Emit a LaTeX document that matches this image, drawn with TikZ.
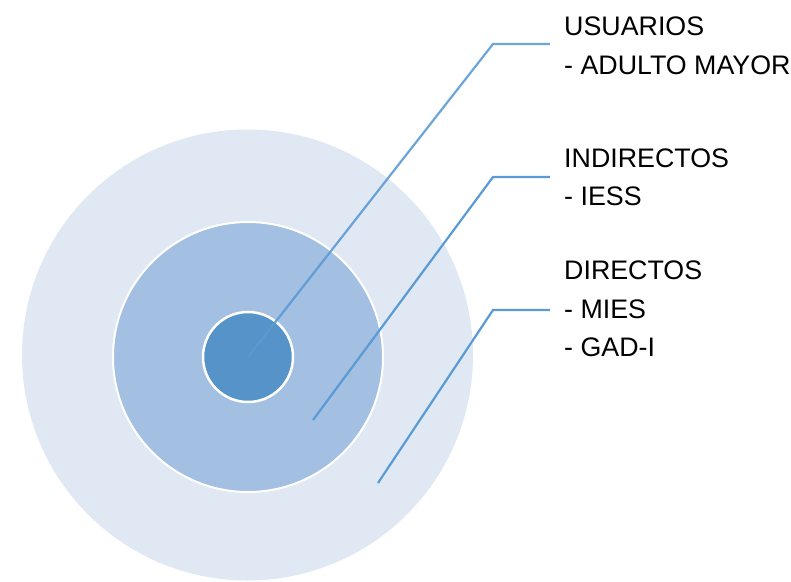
\documentclass[tikz,border=0pt]{standalone}
\usepackage{fontspec}
\setmainfont{Liberation Sans}
\definecolor{ringout}{RGB}{224,232,243}
\definecolor{ringmid}{RGB}{163,191,225}
\definecolor{ringin}{RGB}{85,147,200}
\definecolor{leader}{RGB}{91,155,213}
\begin{document}
\begin{tikzpicture}[x=1pt,y=-1pt,
  ring/.style={circle,inner sep=0pt,outer sep=0pt},
  lbl/.style={anchor=base west,inner sep=0pt,font=\fontsize{26.8}{32}\selectfont,text=black},
  leaderline/.style={draw=leader,line width=2.2pt,line join=miter}]
\useasboundingbox (0,0) rectangle (791,581);
\node[ring,fill=ringout,minimum size=451pt] (outer) at (247.5,355) {};
\node[ring,fill=ringmid,draw=white,line width=2pt,minimum size=270pt] (middle) at (248,357) {};
\node[ring,fill=ringin,draw=white,line width=2.5pt,minimum size=90pt] (inner) at (248,357) {};
% labels
\node[lbl] (u1) at (564,35) {USUARIOS};
\node[lbl] (u2) at (564,74) {- ADULTO MAYOR};
\node[lbl] (i1) at (564,167) {INDIRECTOS};
\node[lbl] (i2) at (564,205) {- IESS};
\node[lbl] (d1) at (564,279) {DIRECTOS};
\node[lbl] (d2) at (564,318) {- MIES};
\node[lbl] (d3) at (564,356) {- GAD-I};
% leader coordinates
\coordinate (s1) at (inner.center);
\coordinate (k1) at (493,44);
\coordinate (e1) at (550,44);
\coordinate (s2) at (313,420);
\coordinate (k2) at (493,177);
\coordinate (e2) at (550,177);
\coordinate (s3) at (378,483);
\coordinate (k3) at (493,310);
\coordinate (e3) at (550,310);
\draw[leaderline,opacity=0.9] (s1) -- (k1) -- (e1);
\draw[leaderline] (s2) -- (k2) -- (e2);
\draw[leaderline] (s3) -- (k3) -- (e3);
\end{tikzpicture}
\end{document}
